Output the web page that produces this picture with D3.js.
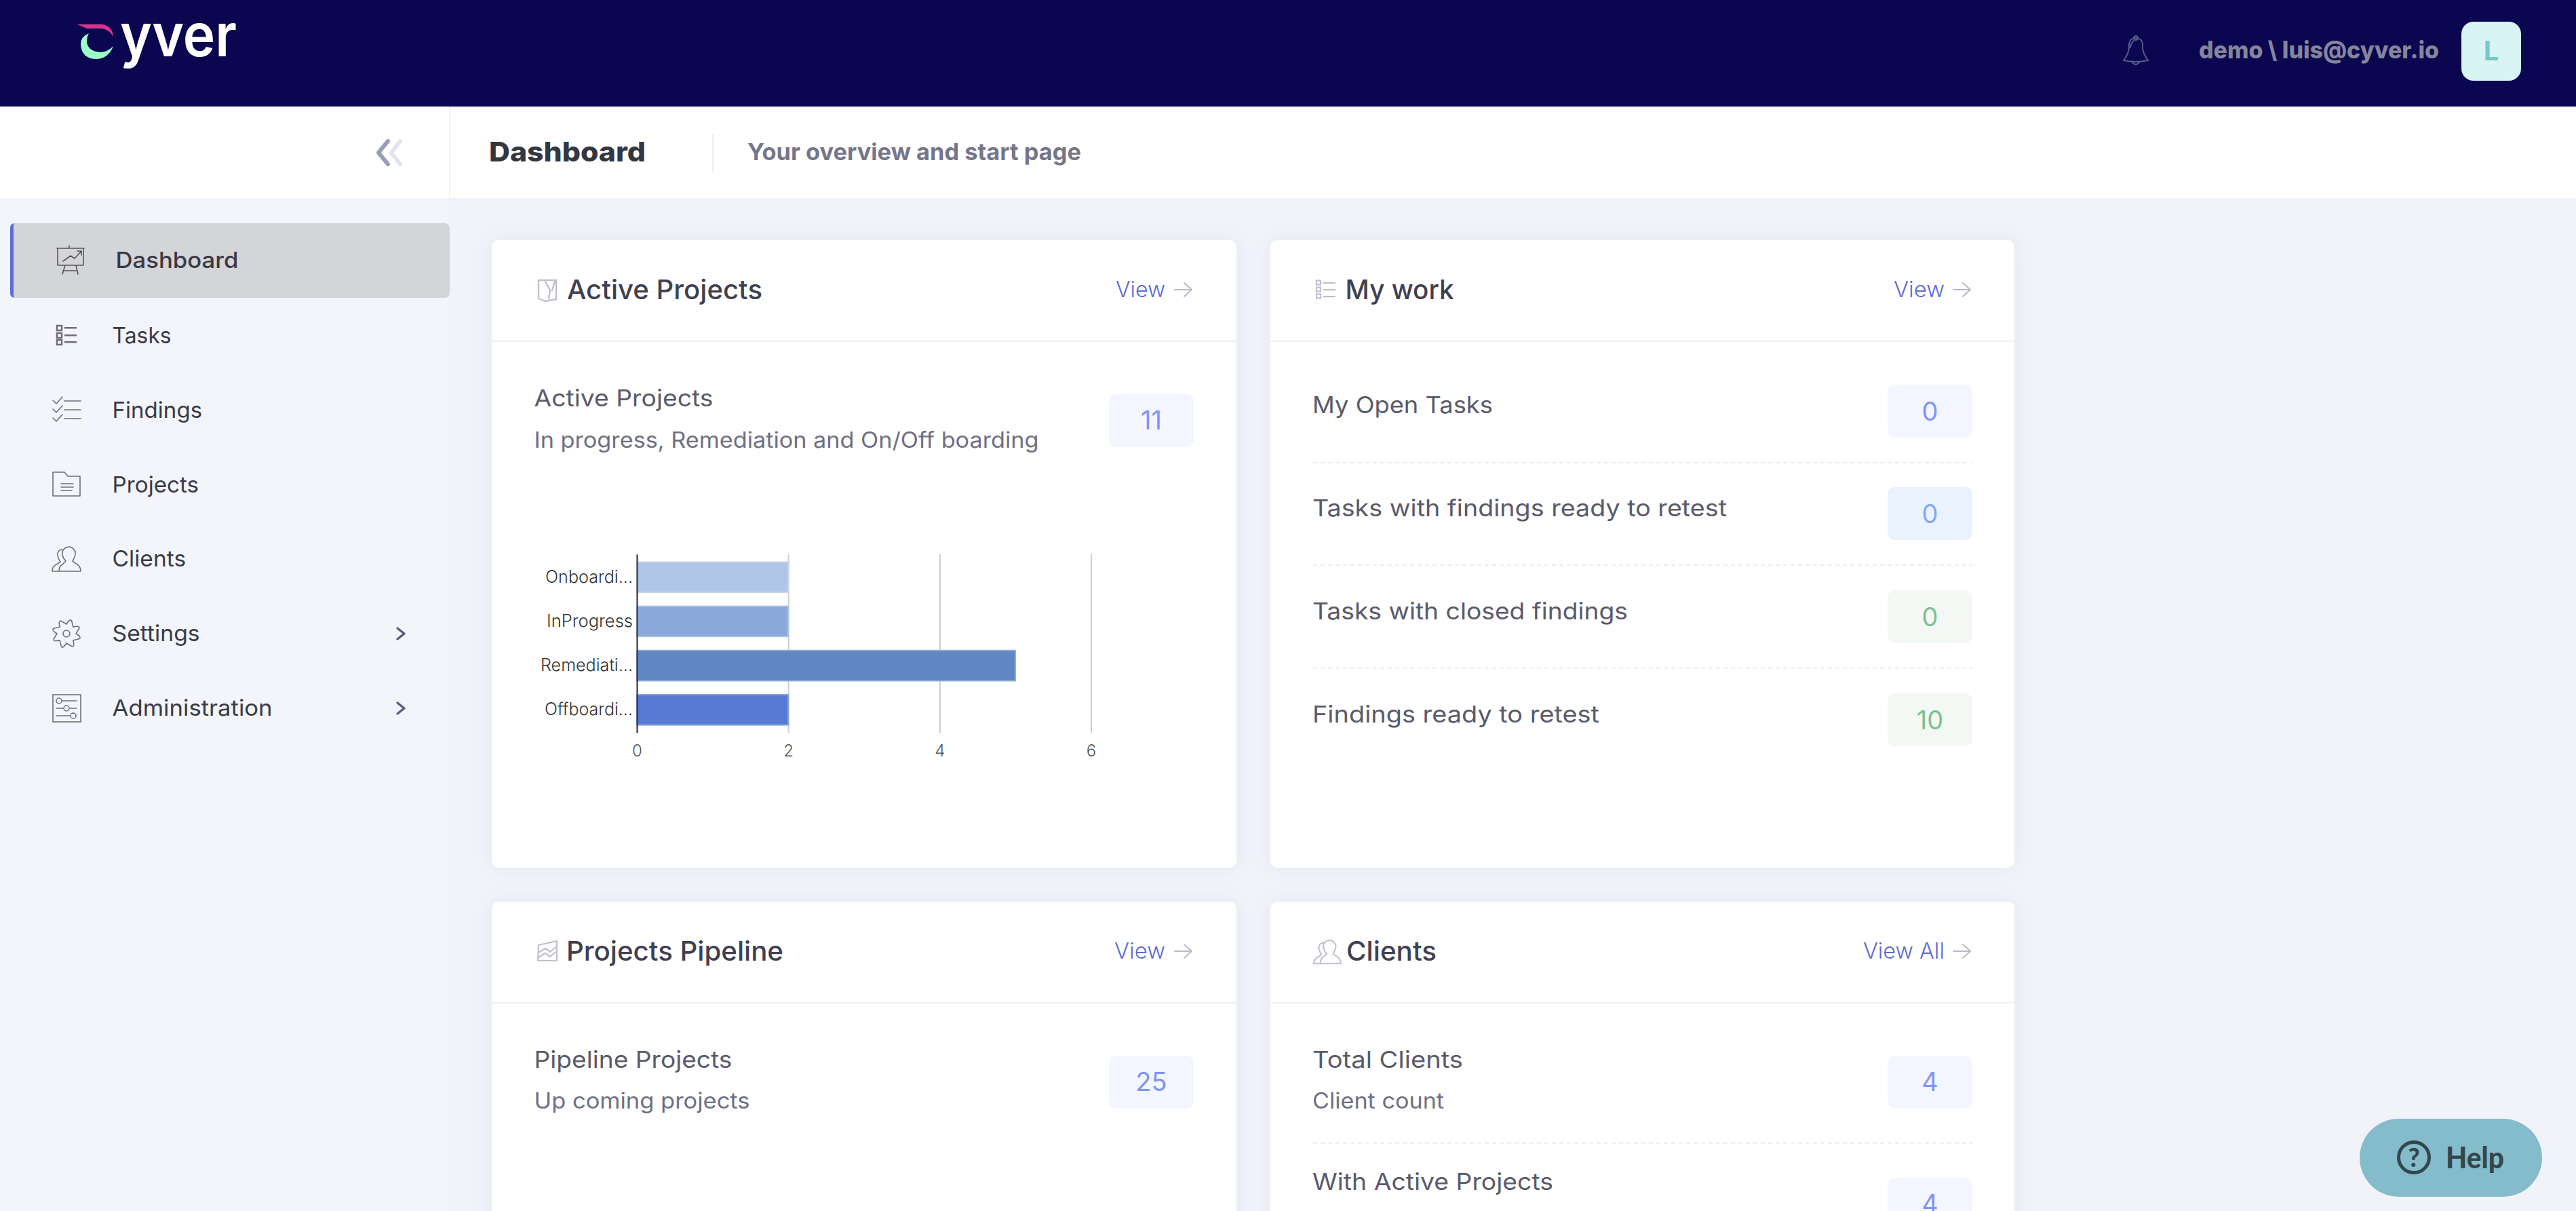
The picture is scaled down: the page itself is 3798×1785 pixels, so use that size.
<!DOCTYPE html>
<html><head><meta charset="utf-8">
<script src="https://cdn.jsdelivr.net/npm/d3@7"></script>
<style>html,body{margin:0;padding:0;background:#f1f3f8;overflow:hidden}svg{display:block}text{font-family:Inter,"Noto Sans",sans-serif}</style>
</head><body><svg id="c" width="3798" height="1785" viewBox="0 0 3798 1785"></svg>
<script>
// ---------- data ----------
const categories = ["Onboardi...", "InProgress", "Remediati...", "Offboardi..."];
const projectCounts = [2, 2, 5, 2];
const barColors = ["#aec5e7", "#8aaadb", "#5f87c4", "#587ad5"];
const xTickValues = [0, 2, 4, 6];
const navLabels = ["Dashboard", "Tasks", "Findings", "Projects", "Clients", "Settings", "Administration"];
const workLabels = ["My Open Tasks", "Tasks with findings ready to retest", "Tasks with closed findings", "Findings ready to retest"];
const workValues = [0, 0, 0, 10];
const activeTotal = 11, pipelineTotal = 25, clientTotal = 4, clientsActive = 4;

// ---------- layout ----------
const catWidths = [129, 127, 136, 130];
const navBase = [395, 505.5, 615.5, 725.5, 835, 945, 1055];
const navX = [170.5, 165.6, 165.6, 165.6, 165.6, 165.6, 165.6];
const navW = [181, 87, 132.5, 127.5, 108.5, 129, 236];
const workW = [265, 610, 464, 422];
const workBase = [609, 761, 913, 1065];
const workBadgeTop = [567, 718, 870, 1022];
const workBadgeFill = ["#f3f6ff", "#eaf2fe", "#f3f8f4", "#f3f8f4"];
const workNumFill = ["#7f94f7", "#84a8f5", "#7cc190", "#7cc190"];

const svg = d3.select("#c");
const defs = svg.append("defs");
const f = defs.append("filter").attr("id", "sh").attr("x", "-5%").attr("y", "-5%").attr("width", "110%").attr("height", "110%");
f.append("feDropShadow").attr("dx", 0).attr("dy", 0).attr("stdDeviation", 14).attr("flood-color", "#5a5a8c").attr("flood-opacity", 0.05);

function T(s, x, y, size, fill, width, weight = 400, anchor = "start", family) {
  const t = svg.append("text").text(s).attr("x", x).attr("y", y).attr("font-size", size)
    .attr("fill", fill).attr("font-weight", weight).attr("text-anchor", anchor);
  if (width) t.attr("textLength", width).attr("lengthAdjust", "spacingAndGlyphs");
  if (family) t.style("font-family", family);
  return t;
}
function R(x, y, w, h, fill, r = 0) {
  return svg.append("rect").attr("x", x).attr("y", y).attr("width", w).attr("height", h).attr("rx", r).attr("fill", fill);
}
function P(d, stroke, sw = 2, fill = "none") {
  return svg.append("path").attr("d", d).attr("fill", fill).attr("stroke", stroke).attr("stroke-width", sw)
    .attr("stroke-linecap", "round").attr("stroke-linejoin", "round");
}

// ---------- page chrome ----------
R(0, 0, 3798, 1785, "#f1f3f8");
R(0, 292, 662, 1493, "#f3f5fb");
R(0, 0, 3798, 157, "#0a0650");
R(0, 157, 3798, 135, "#ffffff");
R(662, 159, 2, 133, "#f2f3f8");
R(662, 157, 3136, 2, "#f2f3f8");
R(1050, 198, 3, 55, "#eef1f5");

// logo
svg.append("path").attr("fill", "#d6348c").attr("d", "M113.5,35.7 H150 Q166,38 167,54 Q160,43 150,42 H128 Z");
svg.append("path").attr("fill", "#9bfcc8").attr("d", "M131,49 Q119,54 119,65 Q120,87 143,87 Q160,86 167,68 Q158,77 148,77 Q131,76 128,63 Q128,54 131,49Z");
T("yver", 177, 83, 88, "#ffffff", 172, 600);

// header right
P("M3131,89 Q3139,78 3139,70 Q3138,56 3149,56 Q3160,56 3159,70 Q3159,78 3167,89 Q3149,93 3131,89Z M3143,91 Q3149,99 3155,91 M3146,60 Q3142,63 3141,70", "#575a8d", 2);
svg.append("circle").attr("cx", 3149).attr("cy", 56).attr("r", 3).attr("fill", "none").attr("stroke", "#575a8d").attr("stroke-width", 2);
T("demo \\ luis@cyver.io", 3242, 86, 35, "#85859a", 354, 800);
R(3629, 32, 88, 87, "#d9f4f4", 18);
T("L", 3673, 89, 40, "#78c8c4", null, 700, "middle");

// sub header
P("M590,208 L577,225 L590,242", "#e2e3ec", 6);
P("M572,208 L558,225 L572,242", "#9a9db8", 6);
T("Dashboard", 721, 238, 40, "#343640", 231, 800);
T("Your overview and start page", 1102, 236, 34, "#757689", 492, 700);

// ---------- sidebar ----------
R(15, 329, 648, 110, "#d4d5d8", 7);
svg.append("path").attr("fill", "#5a6fd8").attr("d", "M22,329 Q15,329 15,336 V432 Q15,439 22,439 H20 V329Z");
navLabels.forEach((s, i) => T(s, navX[i], navBase[i], 33, "#3a3a45", navW[i], i === 0 ? 500 : 400));
const ic = "#6f6f73";
// dashboard icon
P("M84,366 H124 M102,362 V366 M85,366 V391 H123 V366 M93,385 L104,377 L110,381 L120,370 M114,370 H120 V376 M96,391 L92,404 M112,391 L115,404 M93,399 H114", "#555", 1.6);
// tasks icon
[480, 491, 501].forEach(y => {
  svg.append("rect").attr("x", 84).attr("y", y).attr("width", 7).attr("height", 7).attr("fill", "none").attr("stroke", ic).attr("stroke-width", 2.5);
  svg.append("rect").attr("x", 95).attr("y", y + 2).attr("width", 18).attr("height", 2.5).attr("fill", ic);
});
// findings icon
[587, 600, 613].forEach(y => {
  P(`M78,${y + 3} L83,${y + 8} L92,${y - 2}`, ic, 1.6);
  P(`M95,${y + 4} H119`, ic, 1.6);
});
// projects icon
P("M78,696 H95 L100,702 H118 V731 H78Z M90,713 H108 M90,718 H108 M90,723 H106", ic, 1.6);
// clients icon
function people(x, y, k, col, sw) {
  P(`M${x},${y + 36*k} Q${x},${y + 28*k} ${x + 8*k},${y + 25*k} L${x + 12*k},${y + 22*k} Q${x + 7*k},${y + 15*k} ${x + 8*k},${y + 9*k} Q${x + 10*k},${y + 4*k} ${x + 15*k},${y + 4*k} M${x},${y + 36*k} H${x + 42*k} Q${x + 42*k},${y + 28*k} ${x + 34*k},${y + 24*k} L${x + 30*k},${y + 21*k} Q${x + 35*k},${y + 13*k} ${x + 34*k},${y + 7*k} Q${x + 30*k},${y} ${x + 25*k},${y} Q${x + 18*k},${y} ${x + 15*k},${y + 7*k} Q${x + 14*k},${y + 15*k} ${x + 20*k},${y + 21*k} L${x + 16*k},${y + 25*k} Q${x + 10*k},${y + 28*k} ${x + 10*k},${y + 36*k}`, col, sw);
}
people(77, 806, 1, ic, 1.6);
// settings icon
const gear = d3.range(0, 8).map(a => {
  const t = a * Math.PI / 4;
  return `M${98 + 14 * Math.cos(t)},${934 + 14 * Math.sin(t)} Q${98 + 24 * Math.cos(t + .25)},${934 + 24 * Math.sin(t + .25)} ${98 + 20 * Math.cos(t + .4)},${934 + 20 * Math.sin(t + .4)} L${98 + 14 * Math.cos(t + .78)},${934 + 14 * Math.sin(t + .78)}`;
}).join(" ");
P(gear, ic, 1.6);
svg.append("circle").attr("cx", 98).attr("cy", 934).attr("r", 5).attr("fill", "none").attr("stroke", ic).attr("stroke-width", 1.6);
// admin icon
svg.append("rect").attr("x", 78).attr("y", 1024).attr("width", 41).attr("height", 40).attr("fill", "none").attr("stroke", ic).attr("stroke-width", 1.6);
[[87, 1033], [98, 1044], [108, 1055]].forEach(([x, y]) => {
  P(`M83,${y} H113`, ic, 1.4);
  svg.append("circle").attr("cx", x).attr("cy", y).attr("r", 4).attr("fill", "#f3f5fb").attr("stroke", ic).attr("stroke-width", 1.4);
});
// chevrons
[934, 1044].forEach(y => P(`M586,${y - 8} L596,${y} L586,${y + 8}`, "#5a5d80", 3.5));

// ---------- cards ----------
function card(x, y, w, h, divY) {
  R(x, y, w, h, "#ffffff", 10).attr("filter", "url(#sh)");
  R(x, divY - 1, w, 2, "#f0f0f5");
}
function badge(x, y, fill, num, numFill, cy) {
  R(x, y, 125, 78, fill, 11);
  T(num, x + 62.5, cy + 14, 38, numFill, null, 400, "middle");
}
function viewLink(s, x, w, base, arrowX, cy) {
  T(s, x, base, 33, "#5d6bd8", w, 300);
  P(`M${arrowX},${cy} H${arrowX + 24} M${arrowX + 14},${cy - 10} L${arrowX + 25},${cy} L${arrowX + 14},${cy + 10}`, "#b9b9c6", 2);
}
const ti = "#c0c0cc", head = "#404050", sub = "#5a5a6a", muted = "#6f6f84";

card(725, 354, 1098, 925, 503);
card(1873, 354, 1097, 925, 503);
card(725, 1329, 1098, 500, 1478);
card(1873, 1329, 1097, 500, 1478);

// Active Projects
P("M794,413 H820 V441 L804,444 L794,440Z M804,415 L811,428 L809,440 M818,415 L814,428", ti, 2.4);
T("Active Projects", 836, 441, 39, head, 288, 500);
viewLink("View", 1645, 73, 438, 1732, 427);
T("Active Projects", 787.5, 599, 34, sub, 264, 400);
T("In progress, Remediation and On/Off boarding", 787.5, 660, 32, muted, 744, 400);
badge(1635, 581, "#f3f6ff", activeTotal, "#7f94f7", 619);

// chart
const x = d3.scaleLinear().domain([0, 6]).range([939, 1608.5]);
const y = d3.scaleBand().domain(categories).range([817, 1080]).paddingInner(0.316).paddingOuter(0.175);
const gx = svg.append("g").attr("transform", "translate(0,1080)")
  .call(d3.axisBottom(x).tickValues(xTickValues).tickFormat(d3.format("d")).tickSize(-263).tickSizeOuter(0).tickPadding(18));
gx.select(".domain").remove();
gx.selectAll("line").attr("stroke", "#cccccc").attr("stroke-width", 2);
gx.selectAll("text").attr("font-size", 24).attr("fill", "#555555").attr("font-weight", 300).style("font-family", "Inter");
svg.append("g").selectAll("rect").data(categories).join("rect")
  .attr("x", x(0)).attr("y", d => y(d)).attr("height", y.bandwidth())
  .attr("width", (d, i) => x(projectCounts[i]) - x(0))
  .attr("fill", (d, i) => barColors[i])
  .attr("stroke", (d, i) => d3.interpolateRgb(barColors[i], "#ffffff")(0.3)).attr("stroke-width", 2);
const gy = svg.append("g").attr("transform", `translate(${x(0)},0)`)
  .call(d3.axisLeft(y).tickSize(0).tickSizeOuter(0).tickPadding(6));
gy.select(".domain").attr("stroke", "#333333").attr("stroke-width", 2);
gy.selectAll("text").attr("font-size", 25).attr("fill", "#333333").attr("font-weight", 300)
  .style("font-family", "Inter")
  .attr("textLength", (d, i) => catWidths[i]).attr("lengthAdjust", "spacingAndGlyphs");

// My work
[417, 427, 437].forEach(yy => {
  svg.append("rect").attr("x", 1941).attr("y", yy - 3.5).attr("width", 6).attr("height", 6).attr("fill", "none").attr("stroke", ti).attr("stroke-width", 2.2);
  R(1951, yy - 1, 18, 2.2, ti);
});
T("My work", 1983.6, 441, 39, head, 160, 500);
viewLink("View", 2792, 75, 438, 2880, 427);
workLabels.forEach((s, i) => {
  T(s, 1935, workBase[i], 34, sub, workW[i] + 1, 400);
  badge(2783, workBadgeTop[i], workBadgeFill[i], workValues[i], workNumFill[i], workBadgeTop[i] + 39);
});
[682, 833, 985].forEach(yy => svg.append("line").attr("x1", 1936).attr("x2", 2908).attr("y1", yy).attr("y2", yy)
  .attr("stroke", "#ececf1").attr("stroke-width", 2).attr("stroke-dasharray", "6 5"));

// Projects Pipeline
P("M794,1393 L821,1387 V1416 H793Z M794,1404 L804,1398 L811,1403 L821,1395 M794,1411 L804,1405 L811,1410 L821,1402", ti, 2.2);
T("Projects Pipeline", 835, 1416, 39, head, 320, 500);
viewLink("View", 1643, 75, 1413, 1732, 1402);
T("Pipeline Projects", 787.5, 1574, 34, sub, 292, 400);
T("Up coming projects", 787.5, 1634, 32, muted, 318, 400);
badge(1635, 1556, "#f3f6ff", pipelineTotal, "#7f94f7", 1594);

// Clients
people(1937, 1386, 0.95, ti, 2);
T("Clients", 1985, 1416, 39, head, 133, 500);
viewLink("View All", 2747, 120, 1413, 2880, 1402);
T("Total Clients", 1935, 1574, 34, sub, 222, 400);
T("Client count", 1935, 1634, 32, muted, 194, 400);
badge(2783, 1556, "#f3f6ff", clientTotal, "#7f94f7", 1594);
svg.append("line").attr("x1", 1936).attr("x2", 2908).attr("y1", 1685).attr("y2", 1685)
  .attr("stroke", "#ececf1").attr("stroke-width", 2).attr("stroke-dasharray", "6 5");
T("With Active Projects", 1935, 1754, 34, sub, 355, 400);
badge(2783, 1736, "#f3f6ff", clientsActive, "#7f94f7", 1774);

// Help button
R(3479, 1649, 269, 115, "#85bccc", 57.5);
svg.append("circle").attr("cx", 3559).attr("cy", 1706).attr("r", 22.5).attr("fill", "none").attr("stroke", "#33474d").attr("stroke-width", 5);
T("?", 3559, 1720, 37, "#33474d", null, 900, "middle", "Lato");
T("Help", 3606, 1722, 44, "#33474d", 86, 900, "start", "Lato");
</script></body></html>
